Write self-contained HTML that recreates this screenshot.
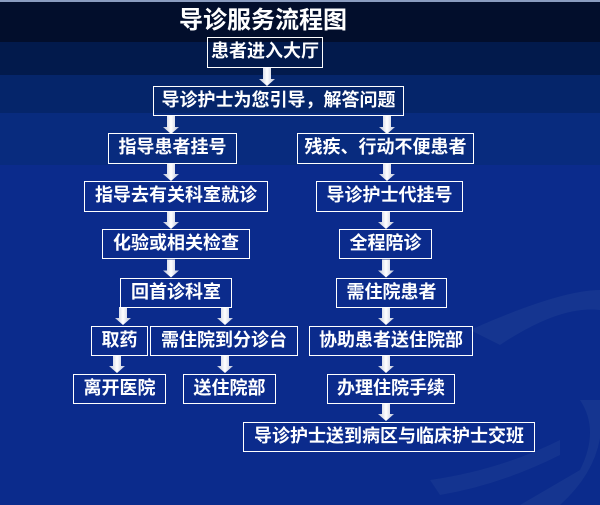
<!DOCTYPE html>
<html><head><meta charset="utf-8"><style>
html,body{margin:0;padding:0}
body{width:600px;height:505px;position:relative;overflow:hidden;background:#0b2b8c;font-family:"Liberation Sans","Noto Sans CJK SC","WenQuanYi Zen Hei",sans-serif}
.band{position:absolute;left:0;width:600px}
.b{position:absolute;border:1.5px solid #fff;color:#fff;font-weight:bold;font-size:18px;line-height:27px;text-align:center;box-sizing:border-box;white-space:nowrap}
</style></head><body>
<div class="band" style="top:0;height:2px;background:#8a9cc0"></div>
<div class="band" style="top:2px;height:40px;background:#020e2c"></div>
<div class="band" style="top:42px;height:33px;background:#021a4c"></div>
<div class="band" style="top:75px;height:38px;background:#05256a"></div>
<div class="band" style="top:113px;height:52px;background:#082b7e"></div>
<svg style="position:absolute;left:0;top:0" width="600" height="505">
<path d="M470 330 Q560 290 600 290 L600 310 Q560 305 500 345 Z" fill="#1a3a92" opacity="0.7"/>
<path d="M580 400 Q600 430 580 470 L520 505 L560 505 Q610 460 600 400 Z" fill="#1a3a92" opacity="0.7"/>
<path d="M430 480 Q500 470 560 440 L560 455 Q500 485 440 495 Z" fill="#1a3a92" opacity="0.6"/>
<defs><linearGradient id="g" x1="0" x2="1"><stop offset="0" stop-color="#b8c0d8"/><stop offset="0.5" stop-color="#fff"/><stop offset="1" stop-color="#b8c0d8"/></linearGradient>
<symbol id="ar" viewBox="0 0 16 18"><path d="M4 0H12V11H16L8 18L0 11H4Z" fill="url(#g)"/></symbol></defs>
<use href="#ar" x="259" y="68" width="16" height="18"/>
<use href="#ar" x="163" y="116" width="16" height="18"/>
<use href="#ar" x="379" y="116" width="16" height="18"/>
<use href="#ar" x="163" y="163" width="16" height="18"/>
<use href="#ar" x="379" y="163" width="16" height="18"/>
<use href="#ar" x="163" y="211" width="16" height="18"/>
<use href="#ar" x="378" y="211" width="16" height="18"/>
<use href="#ar" x="163" y="259" width="16" height="19"/>
<use href="#ar" x="378" y="259" width="16" height="19"/>
<use href="#ar" x="115" y="307" width="16" height="18"/>
<use href="#ar" x="217" y="307" width="16" height="18"/>
<use href="#ar" x="378" y="307" width="16" height="18"/>
<use href="#ar" x="109" y="355" width="16" height="18"/>
<use href="#ar" x="217" y="355" width="16" height="18"/>
<use href="#ar" x="378" y="355" width="16" height="18"/>
<use href="#ar" x="378" y="403" width="16" height="18"/>
</svg>
<div style="position:absolute;left:170px;top:6px;width:186px;text-align:center;color:#fff;font-weight:bold;font-size:24px;line-height:30px">导诊服务流程图</div>
<div class="b" style="left:207px;top:37px;width:116px;height:31px">患者进入大厅</div>
<div class="b" style="left:153px;top:86px;width:251px;height:30px">导诊护士为您引导，解答问题</div>
<div class="b" style="left:108px;top:133px;width:129px;height:31px">指导患者挂号</div>
<div class="b" style="left:297px;top:133px;width:177px;height:31px">残疾、行动不便患者</div>
<div class="b" style="left:84px;top:181px;width:184px;height:31px">指导去有关科室就诊</div>
<div class="b" style="left:316px;top:181px;width:147px;height:31px">导诊护士代挂号</div>
<div class="b" style="left:102px;top:229px;width:148px;height:30px">化验或相关检查</div>
<div class="b" style="left:339px;top:229px;width:93px;height:30px">全程陪诊</div>
<div class="b" style="left:120px;top:278px;width:112px;height:30px">回首诊科室</div>
<div class="b" style="left:336px;top:278px;width:111px;height:30px">需住院患者</div>
<div class="b" style="left:91px;top:326px;width:57px;height:30px">取药</div>
<div class="b" style="left:150px;top:326px;width:148px;height:30px">需住院到分诊台</div>
<div class="b" style="left:309px;top:326px;width:164px;height:30px">协助患者送住院部</div>
<div class="b" style="left:73px;top:374px;width:93px;height:30px">离开医院</div>
<div class="b" style="left:183px;top:374px;width:93px;height:30px">送住院部</div>
<div class="b" style="left:327px;top:374px;width:128px;height:30px">办理住院手续</div>
<div class="b" style="left:243px;top:422px;width:292px;height:30px">导诊护士送到病区与临床护士交班</div>
</body></html>
